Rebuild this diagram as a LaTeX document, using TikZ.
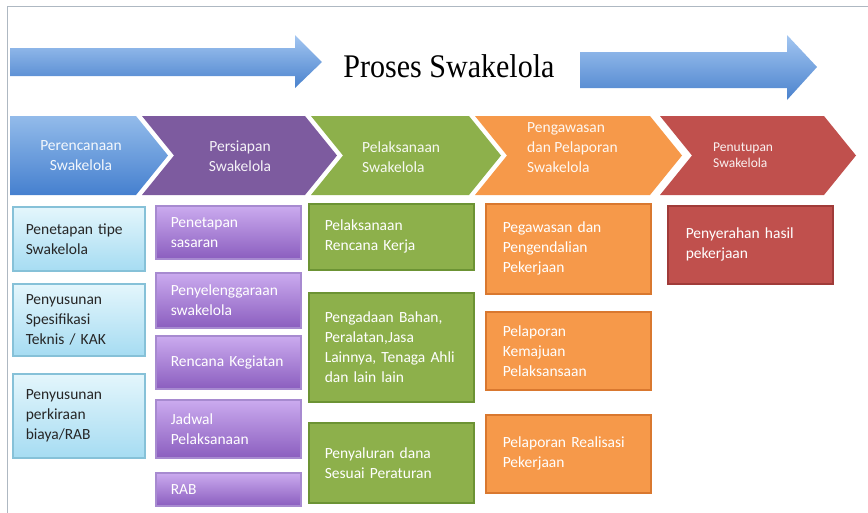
\documentclass[tikz,border=0pt]{standalone}
\usepackage{fontspec}
\setmainfont{Carlito}
\newfontfamily\titlefont{Liberation Serif}
\usetikzlibrary{shadows}

\definecolor{framegray}{HTML}{AEB8C2}
\definecolor{arrowtop}{HTML}{A3C6F1}
\definecolor{arrowbot}{HTML}{4A82CD}
\definecolor{chblue}{HTML}{4580CF}
\definecolor{chbluetop}{HTML}{93BBEA}
\definecolor{chpurple}{HTML}{7D5B9F}
\definecolor{chgreen}{HTML}{8DB04B}
\definecolor{chorange}{HTML}{F6994A}
\definecolor{chred}{HTML}{C0504D}
\definecolor{bluetop}{HTML}{E4F6FC}
\definecolor{bluebot}{HTML}{A6DCF2}
\definecolor{blueline}{HTML}{86C1D8}
\definecolor{purpletop}{HTML}{CBABEF}
\definecolor{purplebot}{HTML}{8B5EBF}
\definecolor{purpleline}{HTML}{A78AD0}
\definecolor{greenline}{HTML}{6C9334}
\definecolor{orangeline}{HTML}{D9782F}
\definecolor{redline}{HTML}{A03B39}

\begin{document}
\begin{tikzpicture}
  [x=1pt,y=-1pt,
   box/.style={draw,rectangle,line width=1.5pt,anchor=north west,align=left,
     inner ysep=2pt,font=\fontsize{15.5}{20}\selectfont,
     drop shadow={opacity=.25,shadow xshift=1pt,shadow yshift=-1.5pt}},
   bluebox/.style={box,draw=blueline,top color=bluetop,bottom color=bluebot,
     text=black!85,inner xsep=13pt,text width=106pt},
   purplebox/.style={box,draw=purpleline,top color=purpletop,bottom color=purplebot,
     text=white,inner xsep=15pt,text width=115pt},
   greenbox/.style={box,draw=greenline,fill=chgreen,text=white,inner xsep=16pt,text width=133pt},
   orangebox/.style={box,draw=orangeline,fill=chorange,text=white,inner xsep=17pt,text width=131pt},
   redbox/.style={box,draw=redline,fill=chred,text=white,inner xsep=18pt,text width=129pt},
   chlabel/.style={text=white,opacity=.92,font=\fontsize{15.5}{20}\selectfont}]
  \useasboundingbox (0,0) rectangle (868,512);
  \draw[framegray,line width=1pt] (7,515) -- (7,6) -- (870,6);

  % top arrows and title
  \shade[top color=arrowtop,bottom color=arrowbot]
    (10,48) -- (295,48) -- (295,35) -- (322,62) -- (295,88) -- (295,76) -- (10,76) -- cycle;
  \shade[top color=arrowtop,bottom color=arrowbot]
    (580,52) -- (787,52) -- (787,35) -- (817,67) -- (787,100) -- (787,88) -- (580,88) -- cycle;
  \node[anchor=base,xscale=.91,font=\titlefont\fontsize{33}{36}\selectfont] (title) at (449,77) {Proses Swakelola};

  % chevrons
  \shade[top color=chbluetop,bottom color=chblue]
    (10,116) -- (136,116) -- (168,155.5) -- (136,195) -- (10,195) -- cycle;
  \foreach \xa/\xb/\col in {142/305/chpurple,311/469/chgreen,475/650/chorange,660/824/chred}
    \fill[\col] (\xa,116) -- (\xb,116) -- (\xb+32,155.5) -- (\xb,195) -- (\xa,195) -- (\xa+32,155.5) -- cycle;

  \node[chlabel,align=center] (c1) at (81,156) {Perencanaan\\Swakelola};
  \node[chlabel,align=center] (c2) at (240,156) {Persiapan\\Swakelola};
  \node[chlabel,align=left,anchor=west,inner xsep=0pt] (c3) at (362,157) {Pelaksanaan\\Swakelola};
  \node[chlabel,align=left,anchor=west,inner xsep=0pt] (c4) at (527,148) {Pengawasan\\dan Pelaporan\\Swakelola};
  \node[chlabel,align=left,anchor=west,inner xsep=0pt,font=\fontsize{13.5}{16.5}\selectfont] (c5) at (713,155) {Penutupan\\Swakelola};

  % boxes
  \node[bluebox,minimum height=64pt] (b1) at (12,206) {Penetapan tipe\\Swakelola};
  \node[bluebox,minimum height=72pt] (b2) at (12,283) {Penyusunan\\Spesifikasi\\Teknis / KAK};
  \node[bluebox,minimum height=84pt] (b3) at (12,373) {Penyusunan\\perkiraan\\biaya/RAB};

  \node[purplebox,minimum height=53pt] (p1) at (155,205) {Penetapan\\sasaran};
  \node[purplebox,minimum height=55pt] (p2) at (155,272) {Penyelenggaraan\\swakelola};
  \node[purplebox,minimum height=53pt] (p3) at (155,335) {Rencana Kegiatan};
  \node[purplebox,minimum height=58pt] (p4) at (155,399) {Jadwal\\Pelaksanaan};
  \node[purplebox,minimum height=33pt] (p5) at (155,472) {RAB};

  \node[greenbox,minimum height=66pt] (g1) at (308,203) {Pelaksanaan\\Rencana Kerja};
  \node[greenbox,minimum height=109pt] (g2) at (308,292) {Pengadaan Bahan,\\Peralatan,Jasa\\Lainnya, Tenaga Ahli\\dan lain lain};
  \node[greenbox,minimum height=80pt] (g3) at (308,422) {Penyaluran dana\\Sesuai Peraturan};

  \node[orangebox,minimum height=90pt] (o1) at (485,203) {Pegawasan dan\\Pengendalian\\Pekerjaan};
  \node[orangebox,minimum height=78pt] (o2) at (485,311) {Pelaporan\\Kemajuan\\Pelaksansaan};
  \node[orangebox,minimum height=78pt] (o3) at (485,414) {Pelaporan Realisasi\\Pekerjaan};

  \node[redbox,minimum height=78pt] (r1) at (667,205) {Penyerahan hasil\\pekerjaan};
\end{tikzpicture}
\end{document}
